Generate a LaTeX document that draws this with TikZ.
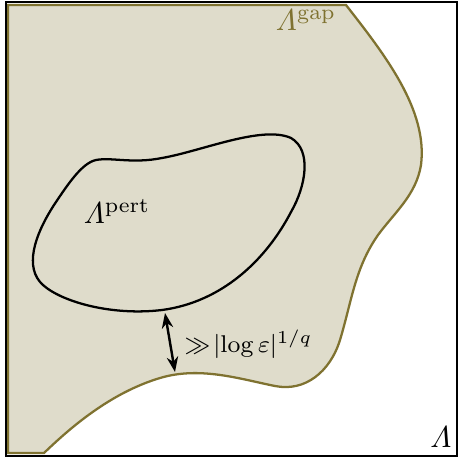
\documentclass[tikz,border=0pt]{standalone}
\usepackage{amsmath,amssymb}
\usepackage{tikz}
\usetikzlibrary{arrows.meta,positioning}
\usepackage{xcolor}
\definecolor{gapfill}{HTML}{DFDCCB}
\definecolor{gapline}{HTML}{7F7230}

\begin{document}
\begin{tikzpicture}[x=0.0116cm,y=-0.0116cm,
		gapedge/.style={draw=gapline,line width=0.75pt,fill=gapfill},
		pertedge/.style={draw=black,line width=0.75pt}]
		
		\useasboundingbox (0,0) rectangle (459,461);
		
		% gap region
		\draw[gapedge] (8,5) -- (346,5)
		.. controls (385,55) and (428,110) .. (421,165)
		.. controls (416,195) and (395,212) .. (378,235)
		.. controls (355,268) and (352,300) .. (340,340)
		.. controls (330,372) and (305,392) .. (275,386)
		.. controls (240,379) and (200,366) .. (160,378)
		.. controls (110,393) and (70,428) .. (44,453)
		-- (8,453) -- cycle;
		
		% big domain
		\draw[line width=0.8pt] (6,2) rectangle (457,456);
		
		% perturbed region
		\draw[pertedge] (96,160)
		.. controls (112,157) and (132,164) .. (162,158)
		.. controls (202,151) and (262,125) .. (291,138)
		.. controls (312,150) and (306,186) .. (291,212)
		.. controls (266,260) and (222,302) .. (162,310)
		.. controls (112,316) and (62,302) .. (43,285)
		.. controls (24,268) and (34,236) .. (54,205)
		.. controls (68,184) and (82,163) .. (96,160) -- cycle;
		
		\node (gap) at (306,20) {\color{gapline}$\varLambda^{\mathrm{gap}}$};
		
		\node (pert) at (117,211) {$\varLambda^{\mathrm{pert}}$};
		
		\node (dom) at (441,437) {$\varLambda$};
		
		\coordinate (top) at (165,313);
		\coordinate (bot) at (175,372);
		
		\draw[{Stealth[length=5pt]}-{Stealth[length=5pt]},line width=0.8pt] (top)--(bot);
		
		\node[anchor=west,font=\footnotesize] (dist) at (174,344)
		{$\gg\!\lvert\log\varepsilon\rvert^{1/q}$};
		
	\end{tikzpicture}
\end{document}
